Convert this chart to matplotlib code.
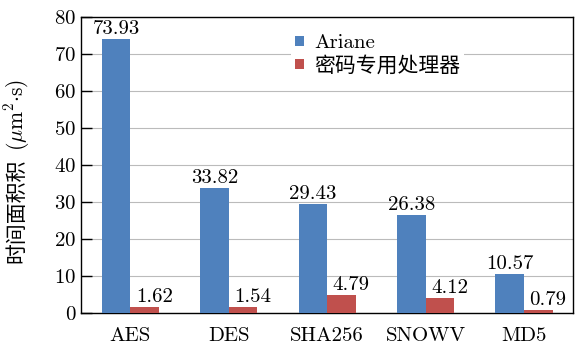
import matplotlib
matplotlib.use("Agg")
import matplotlib.pyplot as plt
import numpy as np

categories = ["AES", "DES", "SHA256", "SNOWV", "MD5"]
ariane = [73.93, 33.82, 29.43, 26.38, 10.57]
crypto = [1.62, 1.54, 4.79, 4.12, 0.79]
series_names = ["Ariane", "密码专用处理器"]
yticks = [0, 10, 20, 30, 40, 50, 60, 70, 80]
ylabel_cn = "时间面积积"
ylabel_unit = r"$(\mu\mathrm{m}^2{\cdot}\mathrm{s})$"

plt.rcParams['font.family'] = ['cmr10', 'Noto Sans CJK SC', 'DejaVu Sans']
plt.rcParams['axes.formatter.use_mathtext'] = True
plt.rcParams['mathtext.fontset'] = 'cm'

W, H = 579, 347
fig = plt.figure(figsize=(W / 100, H / 100), dpi=100)
ax = fig.add_axes([0.140, 0.098, 0.850, 0.853])

x = np.arange(len(categories))
w = 0.29
fs = 15
ax.bar(x - w/2, ariane, w, color="#4F81BD", label=series_names[0], zorder=3)
ax.bar(x + w/2, crypto, w, color="#C0504D", label=series_names[1], zorder=3)

for xi, v in zip(x - w/2, ariane):
    ax.text(xi, v + 0.3, f"{v:.2f}", ha="center", va="bottom", fontsize=fs, zorder=5)
for xi, v in zip(x + w/2, crypto):
    ax.text(xi + 0.1, v + 0.3, f"{v:.2f}", ha="center", va="bottom", fontsize=fs, zorder=5)

ax.set_xlim(-0.5, len(categories) - 0.5)
ax.set_ylim(0, 80)
ax.set_yticks(yticks)
ax.set_xticks(x)
ax.set_xticklabels(categories, fontsize=fs)
ax.tick_params(axis='y', labelsize=fs, direction='in', length=8, width=1)
ax.tick_params(axis='x', length=0, pad=10)
ax.grid(axis='y', color="#BBBBBB", linewidth=0.8, zorder=0)
for s in ax.spines.values():
    s.set_linewidth(1.0)
    s.set_color("black")

# y-axis label: Chinese part + unit part (stacked along the rotated direction)
fig.text(16 / W, 84 / H, ylabel_cn, rotation=90, rotation_mode='anchor',
         ha='left', va='center', fontsize=15, family=['Noto Sans CJK SC'])
fig.text(17 / W, 196 / H, ylabel_unit, rotation=90, rotation_mode='anchor',
         ha='left', va='center', fontsize=15.5)

leg = ax.legend(loc="upper left", bbox_to_anchor=(0.405, 0.99), frameon=True, fontsize=fs,
                handlelength=0.42, handleheight=0.42, handletextpad=0.5, borderpad=0.2,
                labelspacing=0.15)
leg.get_frame().set_edgecolor("none")
leg.get_frame().set_facecolor("white")
leg.get_frame().set_alpha(1)
leg.set_zorder(4)

fig.savefig("out.png", dpi=100)
